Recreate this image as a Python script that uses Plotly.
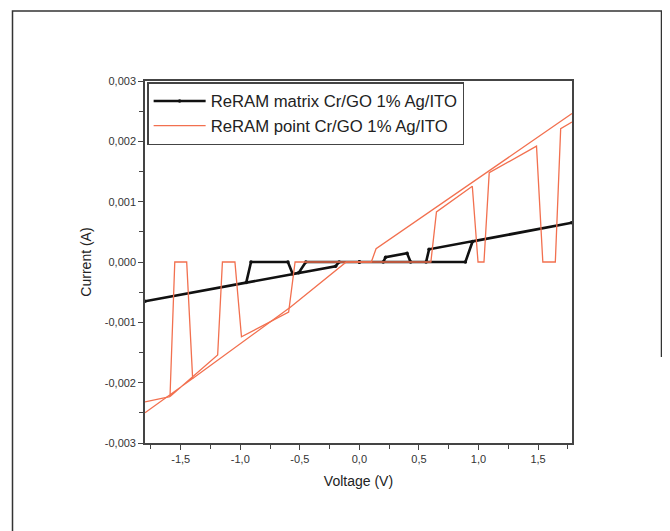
import plotly.graph_objects as go

# ---- data (Voltage in V, Current in mA -> converted to A) ----
matrix_v = [0, 0.20, 0.22, 0.40, 0.43, 0.89, 0.95, 1.785, 0.585, 0.56, 0.0,
            -0.17, -0.20, -1.80, -0.95, -0.91, -0.60, -0.56, -0.51, -0.45, 0.0]
matrix_i_mA = [0, 0, 0.08, 0.145, 0, 0, 0.34, 0.65, 0.21, 0, 0,
               0, -0.07, -0.65, -0.34, 0, 0, -0.20, -0.18, 0, 0]

point_v = [1.785, 1.69, 1.645, 1.54, 1.487, 1.09, 1.046, 0.996, 0.948, 0.647, 0.60,
           -0.54, -0.594, -0.99, -1.045, -1.15, -1.19, -1.59, -1.55, -1.45, -1.40, -1.80,
           None, -1.80, -1.59,
           None, -1.40, -0.58, -0.11, 0.10, 0.14, 1.785]
point_i_mA = [2.32, 2.21, 0, 0, 1.92, 1.48, 0, 0, 1.255, 0.83, 0,
              0, -0.83, -1.24, 0, 0, -1.54, -2.23, 0, 0, -1.93, -2.50,
              None, -2.32, -2.23,
              None, -1.93, -0.75, 0, 0, 0.22, 2.46]

x_tickvals = [-1.5, -1.0, -0.5, 0.0, 0.5, 1.0, 1.5]
x_ticktext = ["-1,5", "-1,0", "-0,5", "0,0", "0,5", "1,0", "1,5"]
y_tickvals = [0.003, 0.002, 0.001, 0.0, -0.001, -0.002, -0.003]
y_ticktext = ["0,003", "0,002", "0,001", "0,000", "-0,001", "-0,002", "-0,003"]

matrix_i = [v / 1000 for v in matrix_i_mA]
point_i = [None if v is None else v / 1000 for v in point_i_mA]

fig = go.Figure()
fig.add_trace(go.Scatter(
    x=matrix_v, y=matrix_i, mode="lines+markers",
    name="ReRAM matrix Cr/GO 1% Ag/ITO",
    line=dict(color="#111111", width=2.6),
    marker=dict(color="#111111", size=3.5),
))
fig.add_trace(go.Scatter(
    x=point_v, y=point_i, mode="lines",
    name="ReRAM point Cr/GO 1% Ag/ITO",
    line=dict(color="#f2704f", width=1.3),
    connectgaps=False,
))

axis_common = dict(
    showline=True, linecolor="#444444", linewidth=1.6, mirror=True,
    ticks="outside", ticklen=5, tickwidth=1.3, tickcolor="#444444",
    showgrid=False, zeroline=False,
    tickfont=dict(family="Liberation Sans, Arial", size=11, color="#333333"),
)

fig.update_xaxes(
    range=[-1.80, 1.785], tickvals=x_tickvals, ticktext=x_ticktext,
    minor=dict(ticks="outside", ticklen=4, tickwidth=1.2, tickcolor="#444444", dtick=0.25, tick0=0),
    title=dict(text="Voltage (V)", font=dict(family="Liberation Sans, Arial", size=14, color="#222222"), standoff=12),
    **axis_common,
)
fig.update_yaxes(
    range=[-0.003, 0.003], tickvals=y_tickvals, ticktext=y_ticktext,
    minor=dict(ticks="outside", ticklen=4, tickwidth=1.2, tickcolor="#444444", dtick=0.0005, tick0=0),
    title=dict(text="Current (A)", font=dict(family="Liberation Sans, Arial", size=14, color="#222222"), standoff=10),
    **axis_common,
)

fig.update_layout(
    width=670, height=531,
    margin=dict(l=137, r=106, t=73, b=96),
    paper_bgcolor="white", plot_bgcolor="white",
    legend=dict(
        x=0.005, y=0.997, xanchor="left", yanchor="top",
        bordercolor="#444444", borderwidth=1.5, bgcolor="white",
        font=dict(family="Liberation Sans, Arial", size=16.7, color="#222222"),
        itemwidth=52, tracegroupgap=0,
    ),
    showlegend=True,
    shapes=[
        dict(type="path", xref="paper", yref="paper",
             path="M -0.3103,-0.243 L -0.3103,1.1934 L 1.2096,1.1934 L 1.2096,0.2376",
             line=dict(color="#333333", width=1.5)),
    ],
)

fig.write_html("out.html")
